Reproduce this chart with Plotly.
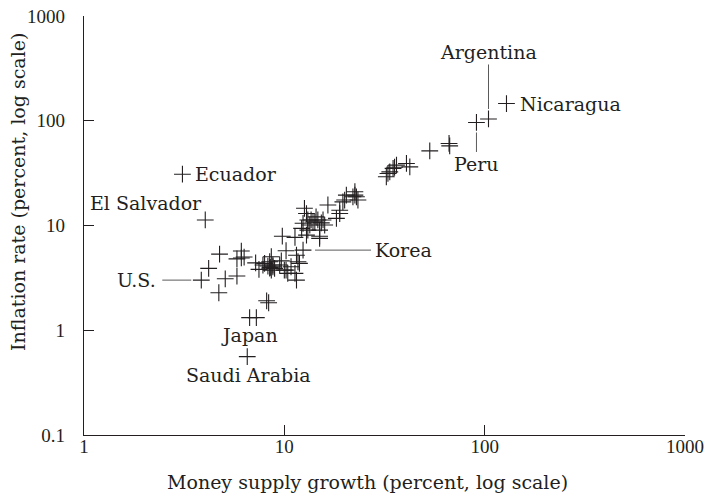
import math
import plotly.graph_objects as go

# Money supply growth (%) and inflation (%) per country
money_growth = [
    128.5, 104.5, 91.0, 53.2, 66.4, 66.9,
    40.7, 42.3, 36.3, 34.9, 33.6, 32.9, 32.3, 35.5,
    22.0, 22.5, 22.9, 23.3, 22.5, 20.4, 20.0, 19.6, 18.9, 16.5, 18.2, 18.9, 15.9,
    12.6, 12.9, 13.1, 13.6, 14.2, 14.7, 15.3, 15.6, 14.4, 13.4, 12.4, 12.2, 13.1,
    15.0, 15.0, 15.0, 12.9, 11.3, 9.77, 13.9,
    12.4, 10.2, 11.5, 11.7, 11.9, 10.8, 11.3, 11.5, 10.4, 10.0, 9.66, 9.48, 8.94,
    8.77, 8.61, 8.45, 8.45, 8.28, 8.61, 7.97, 7.82, 7.47, 7.19, 8.77, 8.51, 10.2,
    6.1, 5.8, 6.1, 6.3, 4.75, 4.19, 4.71, 5.07, 5.80, 3.85, 4.03, 3.10,
    8.16, 8.35, 6.71, 7.25, 6.53,
]
inflation = [
    146, 104, 96.3, 51.6, 60.7, 57.6,
    39.1, 36.3, 37.7, 35.1, 32.5, 31.4, 29.2, 36.0,
    18.8, 21.0, 18.8, 17.5, 19.5, 19.5, 17.5, 16.8, 14.0, 15.7, 11.7, 13.0, 10.1,
    14.6, 13.0, 11.3, 11.3, 10.8, 11.3, 10.6, 11.3, 12.1, 10.1, 10.5, 9.38, 9.04,
    9.04, 7.53, 7.9, 8.1, 7.7, 7.9, 10.8,
    5.82, 5.74, 5.2, 4.51, 4.35, 4.04, 3.49, 3.01, 3.49, 3.75, 4.60, 4.19, 3.90,
    4.19, 5.03, 4.51, 3.92, 4.10, 3.75, 4.35, 4.19, 3.81, 4.40, 4.04, 3.98, 3.75,
    5.7, 4.8, 4.9, 5.0, 5.33, 3.90, 2.28, 3.10, 3.29, 3.01, 11.3, 30.9,
    1.91, 1.83, 1.32, 1.32, 0.56,
]

# Named countries (values shared with the series above)
label_names = ["Argentina", "Nicaragua", "Peru", "Ecuador", "El Salvador",
               "U.S.", "Korea", "Japan", "Saudi Arabia"]
label_growth = [104.5, 128.5, 91.0, 3.10, 4.03, 3.85, 12.4, 6.71, 6.53]
label_inflation = [104, 146, 96.3, 30.9, 11.3, 3.01, 5.82, 1.32, 0.56]

x_tick_vals = [1, 10, 100, 1000]
x_tick_text = ["1", "10", "100", "1000"]
y_tick_vals = [0.1, 1, 10, 100, 1000]
y_tick_text = ["0.1", "1", "10", "100", "1000"]

x_title = "Money supply growth (percent, log scale)"
y_title = "Inflation rate (percent, log scale)"

INK = "#231f20"
LEADER = "#5a5a5a"
TEXT_FONT = dict(family="DejaVu Serif", size=19, color=INK)
TICK_FONT = dict(family="Liberation Serif", size=19, color=INK)

fig = go.Figure()
fig.add_trace(go.Scatter(
    x=money_growth, y=inflation, mode="markers",
    marker=dict(symbol="cross-thin", size=12, line=dict(width=1.1, color=INK)),
    hoverinfo="skip", showlegend=False, cliponaxis=False,
))

# How each country label sits relative to its point
label_style = {
    "Argentina":    dict(showarrow=True, ax=0, ay=-67, standoff=10),
    "Peru":         dict(showarrow=True, ax=0, ay=42, standoff=10),
    "U.S.":         dict(showarrow=True, ax=-65, ay=0, standoff=10, borderpad=6),
    "Korea":        dict(showarrow=True, ax=100, ay=0, standoff=12, borderpad=3),
    "Nicaragua":    dict(showarrow=False, xanchor="left", xshift=12),
    "Ecuador":      dict(showarrow=False, xanchor="left", xshift=11),
    "El Salvador":  dict(showarrow=False, xanchor="right", xshift=-1, yshift=17),
    "Japan":        dict(showarrow=False, xanchor="center", xshift=0, yshift=-17),
    "Saudi Arabia": dict(showarrow=False, xanchor="center", xshift=1, yshift=-18),
}

annotations = []
for name, gx, iy in zip(label_names, label_growth, label_inflation):
    style = dict(label_style[name])
    ann = dict(x=math.log10(gx), y=math.log10(iy), xref="x", yref="y",
               text=name, font=TEXT_FONT, yanchor="middle")
    if style.pop("showarrow"):
        ann.update(showarrow=True, arrowhead=0, arrowwidth=1, arrowcolor=LEADER,
                   axref="pixel", ayref="pixel")
    else:
        ann.update(showarrow=False)
    ann.update(style)
    annotations.append(ann)

# Axis titles
annotations.append(dict(text=x_title, xref="paper", yref="paper", x=0.472, y=0,
                        yshift=-47, xanchor="center", yanchor="middle",
                        showarrow=False, font=TEXT_FONT))
annotations.append(dict(text=y_title, xref="paper", yref="paper", x=0, y=0.58,
                        xshift=-66, xanchor="center", yanchor="middle",
                        textangle=-90, showarrow=False, font=TEXT_FONT))

axis_common = dict(
    type="log", showgrid=False, zeroline=False, showline=True, automargin=False,
    linecolor=INK, linewidth=1.3, ticks="inside", ticklen=10,
    tickwidth=1.3, tickcolor=INK, tickfont=TICK_FONT,
)

fig.update_layout(
    width=706, height=502,
    margin=dict(l=84, r=21, t=16, b=67, pad=0, autoexpand=False),
    paper_bgcolor="white", plot_bgcolor="white",
    xaxis=dict(range=[0, 3], tickvals=x_tick_vals, ticktext=x_tick_text,
               ticklabelstandoff=-6, **axis_common),
    yaxis=dict(range=[-1, 3], tickvals=y_tick_vals, ticktext=y_tick_text,
               ticklabelstandoff=14, **axis_common),
    annotations=annotations,
)

fig.write_html("out.html")
